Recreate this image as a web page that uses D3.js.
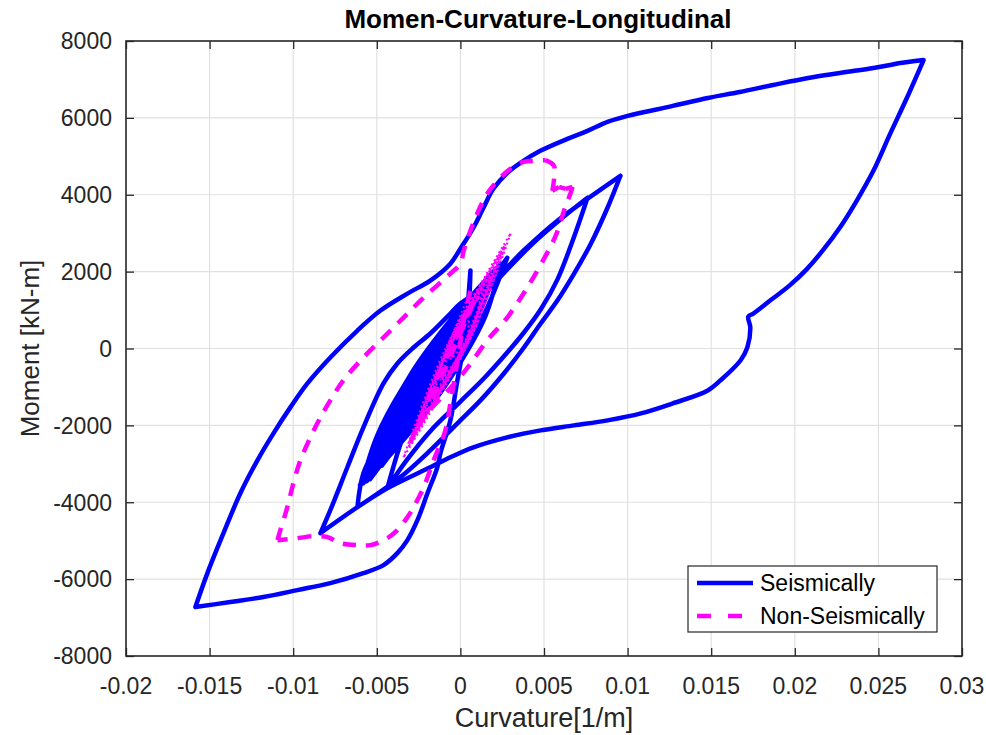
<!DOCTYPE html>
<html>
<head>
<meta charset="utf-8">
<script src="https://cdn.jsdelivr.net/npm/d3@7"></script>
<style>
  body { margin: 0; background: #fff; }
  svg { display: block; font-family: "Liberation Sans", Arial, Helvetica, sans-serif; }
</style>
</head>
<body>
<svg id="chart" width="986" height="735"></svg>
<script>
// ---- Axis ticks ----
const xTicks = [-0.02, -0.015, -0.01, -0.005, 0, 0.005, 0.01, 0.015, 0.02, 0.025, 0.03];
const yTicks = [-8000, -6000, -4000, -2000, 0, 2000, 4000, 6000, 8000];
const xTickLabels = ["-0.02", "-0.015", "-0.01", "-0.005", "0", "0.005", "0.01", "0.015", "0.02", "0.025", "0.03"];
const yTickLabels = ["-8000", "-6000", "-4000", "-2000", "0", "2000", "4000", "6000", "8000"];
const seriesNames = ["Seismically", "Non-Seismically"];

// ---- Seismically designed section: [curvature (1/m), moment (kN-m)] ----
const seisStart = [[0.0002, 0], [0.0004, 900], [0.0006, 2030]];
const seisToNegPeak = [[0.00048, 909], [0.00018, 26], [-0.00018, -831], [-0.0006, -1870], [-0.0012, -2727],
  [-0.00138, -3090], [-0.00197, -3766], [-0.00257, -4467], [-0.00317, -4986], [-0.00377, -5324],
  [-0.0046, -5635], [-0.0058, -5843], [-0.00778, -6103], [-0.00975, -6285], [-0.01178, -6466],
  [-0.01376, -6596], [-0.01585, -6726]];
const seisToPosPeak = [[-0.01513, -5843], [-0.01417, -4804], [-0.01316, -3766], [-0.01214, -2909],
  [-0.01118, -2207], [-0.01017, -1532], [-0.00915, -909], [-0.00778, -234], [-0.00616, 467],
  [-0.00478, 987], [-0.00317, 1428], [-0.0018, 1766], [-0.0006, 2207], [0, 2597], [0.00078, 3142],
  [0.00138, 3662], [0.00197, 4155], [0.00281, 4571], [0.00359, 4830], [0.00478, 5142], [0.0064, 5454],
  [0.0076, 5661], [0.0088, 5895], [0.01, 6051], [0.0127, 6311], [0.0148, 6518], [0.0167, 6674],
  [0.0187, 6856], [0.0208, 7038], [0.0227, 7168], [0.0247, 7298], [0.0257, 7375], [0.0262, 7420],
  [0.0277, 7505]];
const seisUnload = [[0.0267, 6518], [0.0257, 5584], [0.0247, 4623], [0.0237, 3843], [0.02273, 3168],
  [0.02171, 2571], [0.02069, 2052], [0.01968, 1636], [0.0186, 1273], [0.01752, 909], [0.01722, 831],
  [0.01734, 545], [0.01716, 26], [0.01675, -312], [0.01555, -831], [0.0148, -1091], [0.0127, -1428],
  [0.0108, -1688], [0.0088, -1870], [0.0068, -2000], [0.0048, -2130], [0.0028, -2311],
  [0.00078, -2571], [-0.0006, -2830], [-0.0018, -3090], [-0.00437, -3636], [-0.00616, -4129],
  [-0.00837, -4804]];
const seisCycleA = [[-0.00778, -4207], [-0.00676, -3090], [-0.0058, -2052], [-0.0046, -909],
  [-0.00377, -390], [-0.0028, 26], [-0.0018, 390], [-0.0006, 909], [0, 1169], [0.0018, 1688],
  [0.00377, 2545], [0.0058, 3324], [0.0076, 3895], [0.00957, 4493],
  [0.0088, 3662], [0.0078, 2727], [0.0068, 1948], [0.0058, 1247], [0.0048, 650], [0.0038, 26],
  [0.0026, -650], [0.0012, -1350], [0, -1870], [-0.0018, -2650], [-0.0036, -3350], [-0.00616, -4129]];
const seisCycleB = [[-0.0058, -3246], [-0.0048, -2389], [-0.0038, -1532], [-0.0028, -831],
  [-0.0018, -234], [-0.0008, 390], [0, 805], [0.0015, 1450], [0.003, 2150], [0.0045, 2800],
  [0.0061, 3400], [0.0076, 3921],
  [0.0068, 2909], [0.0058, 1792], [0.0048, 1013], [0.0038, 416], [0.0028, -104], [0.0014, -780],
  [0, -1380], [-0.0018, -2150], [-0.0032, -2900], [-0.00437, -3636]];
const seisResidual = [
  [-0.0033, -2137], [-0.0017, -638], [0.0004, 861], [0.0028, 2360],
  [0.0014, 883], [-0.0006, -595], [-0.0031, -2073], [-0.006, -3550],
  [-0.0046, -2138], [-0.0027, -725], [-0.0004, 687], [0.0022, 2100],
  [0.0009, 712], [-0.0009, -675], [-0.0031, -2062], [-0.0056, -3450],
  [-0.0042, -2125], [-0.0025, -800], [-0.0005, 525], [0.0018, 1850],
  [0.0005, 537], [-0.0012, -775], [-0.0032, -2087], [-0.0054, -3400],
  [-0.0045, -2150], [-0.003, -900], [-0.0011, 350], [0.0012, 1600],
  [0.0003, 387], [-0.0011, -825], [-0.003, -2037], [-0.0052, -3250],
  [-0.0037, -1937], [-0.002, -625], [-0.0001, 687], [0.002, 2000],
  [0.0006, 712], [-0.0011, -575], [-0.003, -1862], [-0.005, -3150],
  [-0.004, -1937], [-0.0025, -725], [-0.0007, 487], [0.0014, 1700],
  [0.0002, 400], [-0.0015, -900], [-0.0035, -2200], [-0.0058, -3500],
  [-0.0046, -2287], [-0.0031, -1075], [-0.0013, 137], [0.0008, 1350],
  [-0.0001, 250], [-0.0014, -850], [-0.0029, -1950], [-0.0047, -3050],
  [-0.004, -1850], [-0.0027, -650], [-0.0007, 550], [0.0016, 1750],
  [0.0007, 475], [-0.0009, -800], [-0.003, -2075], [-0.0055, -3350],
  [-0.0041, -2150], [-0.0026, -950], [-0.0008, 250], [0.001, 1450],
  [-0.0001, 362], [-0.0015, -725], [-0.0029, -1812], [-0.0045, -2900],
  [-0.0039, -1887], [-0.0028, -875], [-0.0012, 137], [0.0006, 1150],
  [-0.0001, 87], [-0.0014, -975], [-0.003, -2037], [-0.0049, -3100],
  [-0.003, -1250], [-0.0002, 600],
  [-0.0014, -412], [-0.0028, -1425], [-0.0042, -2437], [-0.0057, -3450],
  [-0.0046, -2037], [-0.0029, -625], [-0.0005, 787], [0.0024, 2200],
  [0.0015, 850], [-0.0002, -500], [-0.0024, -1850], [-0.0051, -3200],
  [-0.0036, -1962], [-0.002, -725], [-0.0003, 512], [0.0015, 1750],
  [-0.0002, 432], [-0.0019, -885], [-0.0038, -2202], [-0.0059, -3520],
  [-0.005, -2290], [-0.0035, -1060], [-0.0015, 170], [0.0009, 1400],
  [0.0003, 300], [-0.001, -800], [-0.0027, -1900], [-0.0048, -3000],
  [-0.0037, -1837], [-0.0023, -675], [-0.0006, 487], [0.0013, 1650],
  [0.0001, 412], [-0.0015, -825], [-0.0033, -2062], [-0.0053, -3300],
  [-0.0044, -2200], [-0.0032, -1100], [-0.0015, 0], [0.0004, 1100],
  [-0.0003, 112], [-0.0014, -875], [-0.0028, -1862], [-0.0044, -2850],
  [-0.0027, -1025], [0.0001, 800]];

// ---- Non-seismically designed section ----
const nonSeisSmall = [[0, 0], [-0.00025, 488], [0.0005, 716],
  [0.00035, 216], [-0.0006, -285], [-0.0002, 534], [0.0012, 1352],
  [0.0006, 261], [-0.0012, -830], [-0.0001, 534], [0.0018, 1898],
  [0.0005, 261], [-0.0018, -1376], [-0.0003, 534], [0.0024, 2444],
  [0.0004, 261], [-0.0024, -1922], [-0.0002, 534], [0.003, 2989],
  [0.0006, 261], [-0.003, -2467], [-0.0009, -194], [0.002, 2080],
  [-0.0002, -376], [-0.0034, -2831], [-0.001, -103], [0.0026, 2625],
  [0.0003, 170], [-0.0028, -2285], [-0.0012, -376], [0.0014, 1534],
  [0.0002, -103], [-0.0022, -1740], [-0.0004, 261], [0.0022, 2262],
  [0.0008, 534], [-0.0016, -1194], [-0.0005, 352], [0.0018, 1898],
  [-0.00025, -330], [-0.0031, -2558], [-0.0007, 79], [0.0027, 2716],
  [0.00065, 306], [-0.0026, -2103], [-0.0014, -648], [0.0006, 1500]];
const nonSeisToNegPeak = [[0.0002, 727], [-0.0001, -130], [-0.0003, -650], [-0.0006, -1428],
  [-0.0009, -2130], [-0.0016, -2909], [-0.0022, -3610], [-0.0028, -4129], [-0.00317, -4389],
  [-0.00377, -4727], [-0.00437, -4934], [-0.00538, -5116], [-0.00616, -5116], [-0.00718, -5064],
  [-0.00795, -4908], [-0.00897, -4882], [-0.00975, -4934], [-0.01094, -4986]];
const nonSeisToPosPeak = [[-0.01077, -4727], [-0.01035, -4129], [-0.00999, -3506], [-0.00957, -2909],
  [-0.00897, -2311], [-0.00837, -1792], [-0.00778, -1350], [-0.007, -831], [-0.0058, -234],
  [-0.0046, 286], [-0.0034, 805], [-0.0022, 1324], [-0.0006, 1948], [0, 2207], [0.0002, 2545],
  [0.00078, 3272], [0.0016, 4025], [0.0027, 4571], [0.0036, 4830], [0.0044, 4882], [0.0051, 4900]];
const nonSeisUnload = [[0.0056, 4750], [0.0056, 4415], [0.0055, 4100], [0.0059, 4207], [0.0063, 4155],
  [0.0067, 4207], [0.0066, 4051], [0.0063, 3714], [0.0061, 3454], [0.0057, 2935], [0.0051, 2415],
  [0.004, 1584], [0.0028, 805], [0.0016, 208], [0.0003, -571], [-0.0009, -1169], [-0.0022, -1800],
  [-0.003, -2450], [-0.001, -400], [0.0008, 1200], [-0.002, -1650]];

const seismic = [].concat(seisStart, seisToNegPeak, seisToPosPeak, seisUnload, seisCycleA, seisCycleB, seisResidual);
const nonSeismicLarge = [nonSeisSmall[nonSeisSmall.length - 1]].concat(nonSeisToNegPeak, nonSeisToPosPeak, nonSeisUnload);

// ---- Layout ----
const W = 986, H = 735;
const plot = { left: 126, right: 962, top: 41, bottom: 656 };
const axisColor = "#262626";
const gridColor = "#e1e1e1";
const blue = "#0000ff", magenta = "#ff00ff";

const svg = d3.select("#chart");
svg.append("rect").attr("width", W).attr("height", H).attr("fill", "#fff");

const x = d3.scaleLinear().domain([-0.02, 0.03]).range([plot.left, plot.right]);
const y = d3.scaleLinear().domain([-8000, 8000]).range([plot.bottom, plot.top]);

svg.append("defs").append("clipPath").attr("id", "plotClip")
  .append("rect").attr("x", plot.left).attr("y", plot.top)
  .attr("width", plot.right - plot.left).attr("height", plot.bottom - plot.top);

// grid
const grid = svg.append("g");
grid.selectAll("line.gx").data(xTicks.slice(1, -1)).join("line")
  .attr("x1", d => x(d)).attr("x2", d => x(d))
  .attr("y1", plot.top).attr("y2", plot.bottom)
  .attr("stroke", gridColor).attr("stroke-width", 1.2);
grid.selectAll("line.gy").data(yTicks.slice(1, -1)).join("line")
  .attr("y1", d => y(d)).attr("y2", d => y(d))
  .attr("x1", plot.left).attr("x2", plot.right)
  .attr("stroke", gridColor).attr("stroke-width", 1.2);

// Smooth path through the points, kept sharp at every load reversal
const smoothLine = d3.line().x(d => x(d[0])).y(d => y(d[1])).curve(d3.curveCatmullRom.alpha(0.5));
function hysteresisPath(points) {
  const pieces = [];
  let start = 0;
  for (let i = 1; i < points.length - 1; i++) {
    const a = points[i][1] - points[i - 1][1];
    const b = points[i + 1][1] - points[i][1];
    if (a * b < 0) { pieces.push(points.slice(start, i + 1)); start = i; }
  }
  pieces.push(points.slice(start));
  return pieces.map(p => smoothLine(p)).join("");
}

const curves = svg.append("g").attr("clip-path", "url(#plotClip)");
curves.append("path").attr("d", hysteresisPath(seismic))
  .attr("fill", "none").attr("stroke", blue).attr("stroke-width", 4.5)
  .attr("stroke-linejoin", "round").attr("stroke-linecap", "round");
// dense small cycles: the dashes crowd into a speckled band
curves.append("path").attr("d", hysteresisPath(nonSeisSmall))
  .attr("fill", "none").attr("stroke", magenta).attr("stroke-width", 2.1)
  .attr("stroke-dasharray", "1.8,3").attr("stroke-linecap", "butt");
curves.append("path").attr("d", hysteresisPath(nonSeismicLarge))
  .attr("fill", "none").attr("stroke", magenta).attr("stroke-width", 4.5)
  .attr("stroke-dasharray", "13,10")
  .attr("stroke-linejoin", "round").attr("stroke-linecap", "butt");

// axes with inward ticks on all four sides
const tickLen = 8;
const axesG = svg.append("g");
const bottomAxis = d3.axisBottom(x).tickValues(xTicks).tickSize(-tickLen).tickFormat("");
const topAxis = d3.axisTop(x).tickValues(xTicks).tickSize(-tickLen).tickFormat("");
const leftAxis = d3.axisLeft(y).tickValues(yTicks).tickSize(-tickLen).tickFormat("");
const rightAxis = d3.axisRight(y).tickValues(yTicks).tickSize(-tickLen).tickFormat("");
axesG.append("g").attr("transform", `translate(0,${plot.bottom})`).call(bottomAxis);
axesG.append("g").attr("transform", `translate(0,${plot.top})`).call(topAxis);
axesG.append("g").attr("transform", `translate(${plot.left},0)`).call(leftAxis);
axesG.append("g").attr("transform", `translate(${plot.right},0)`).call(rightAxis);
axesG.selectAll(".domain").remove();
axesG.selectAll(".tick line").attr("stroke", axisColor).attr("stroke-width", 1.3);
axesG.append("rect").attr("x", plot.left).attr("y", plot.top)
  .attr("width", plot.right - plot.left).attr("height", plot.bottom - plot.top)
  .attr("fill", "none").attr("stroke", axisColor).attr("stroke-width", 1.6);

// tick labels
const labels = svg.append("g").attr("fill", axisColor).attr("font-size", 23);
labels.selectAll("text.xl").data(xTicks).join("text")
  .attr("x", d => x(d)).attr("y", 694)
  .attr("text-anchor", "middle").text((d, i) => xTickLabels[i]);
labels.selectAll("text.yl").data(yTicks).join("text")
  .attr("x", plot.left - 14).attr("y", d => y(d)).attr("dy", "0.36em")
  .attr("text-anchor", "end").text((d, i) => yTickLabels[i]);

// axis titles and chart title
svg.append("text").attr("x", (plot.left + plot.right) / 2).attr("y", 727)
  .attr("text-anchor", "middle").attr("font-size", 27).attr("fill", axisColor)
  .text("Curvature[1/m]");
svg.append("text").attr("transform", `translate(39,${(plot.top + plot.bottom) / 2}) rotate(-90)`)
  .attr("text-anchor", "middle").attr("font-size", 26).attr("fill", axisColor)
  .text("Moment [kN-m]");
svg.append("text").attr("x", 538).attr("y", 28)
  .attr("text-anchor", "middle").attr("font-size", 26).attr("font-weight", "bold").attr("fill", "#000")
  .text("Momen-Curvature-Longitudinal");

// legend
const lg = svg.append("g").attr("transform", "translate(688,566)");
lg.append("rect").attr("width", 249).attr("height", 66)
  .attr("fill", "#fff").attr("stroke", axisColor).attr("stroke-width", 1.2);
const legendItems = [
  { name: seriesNames[0], color: blue, dash: null, cy: 17 },
  { name: seriesNames[1], color: magenta, dash: "14,17", cy: 50 }
];
legendItems.forEach(it => {
  lg.append("line").attr("x1", 9).attr("x2", 65).attr("y1", it.cy).attr("y2", it.cy)
    .attr("stroke", it.color).attr("stroke-width", 4.5)
    .attr("stroke-dasharray", it.dash);
  lg.append("text").attr("x", 72).attr("y", it.cy).attr("dy", "0.36em")
    .attr("font-size", 23).attr("fill", "#000").text(it.name);
});
</script>
</body>
</html>
